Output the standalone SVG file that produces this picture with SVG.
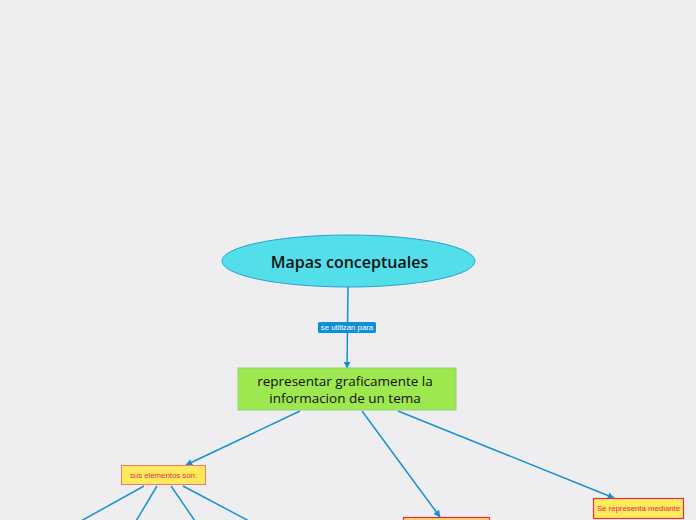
<svg xmlns="http://www.w3.org/2000/svg" width="696" height="520" viewBox="0 0 696 520">
<style>
.bg{fill:#eeeef1}
.con{stroke:#1591d3;stroke-width:1.5;fill:none}
.main{font-family:"Open Sans","Noto Sans",sans-serif;fill:#111;text-anchor:middle}
.small{font-family:"Liberation Sans",Arial,sans-serif;font-size:7.8px;text-anchor:middle}
.yel{fill:#ffe95c;stroke:#f07a6a;stroke-width:1}
.red{fill:#ffe95c;stroke:#e0304c;stroke-width:1.2}
</style>
<defs>
<marker id="ah" viewBox="0 0 10 10" refX="9" refY="5" markerWidth="7" markerHeight="7" orient="auto" markerUnits="userSpaceOnUse">
<path d="M0,0 L10,5 L0,10 z" fill="#1591d3"/>
</marker>
</defs>
<rect class="bg" x="0" y="0" width="696" height="520"/>
<g id="connectors">
<line class="con" x1="348" y1="287" x2="347" y2="368" marker-end="url(#ah)"/>
<line class="con" x1="300" y1="411" x2="186" y2="465" marker-end="url(#ah)"/>
<line class="con" x1="362" y1="411" x2="440" y2="517" marker-end="url(#ah)"/>
<line class="con" x1="398" y1="411" x2="614" y2="498" marker-end="url(#ah)"/>
<line class="con" x1="144" y1="486" x2="81" y2="521"/>
<line class="con" x1="157" y1="486" x2="136" y2="521"/>
<line class="con" x1="171" y1="486" x2="195" y2="521"/>
<line class="con" x1="183" y1="486" x2="249" y2="521"/>
<g id="label-utilizan">
<rect x="318" y="322" width="58" height="11" rx="1.5" fill="#0f8fd4"/>
<text x="347" y="330.3" class="small" fill="#fff">se utilizan para</text>
</g>
</g>
<g id="n-mapas">
<ellipse cx="348.5" cy="261" rx="126.5" ry="26" fill="#52dfea" stroke="#2a9fd6" stroke-width="1"/>
<text x="349.5" y="267.5" class="main" font-size="16" font-weight="600">Mapas conceptuales</text>
</g>
<g id="n-representar">
<rect x="238" y="368" width="218" height="42" fill="#9ee84f" stroke="#8fd27a" stroke-width="1"/>
<text x="345" y="386" class="main" font-size="13.5">representar graficamente la</text>
<text x="345" y="403" class="main" font-size="13.5">informacion de un tema</text>
</g>
<g id="n-elementos">
<rect x="121.5" y="465.5" width="84" height="19" class="yel"/>
<text x="163.5" y="477.8" class="small" fill="#e0304c">sus elementos son:</text>
</g>
<g id="n-middle">
<rect x="403.5" y="517.5" width="86" height="12" fill="#ffd36a" stroke="#e0304c" stroke-width="1.2"/>
</g>
<g id="n-representa">
<rect x="593.5" y="498.5" width="90" height="20" class="red"/>
<text x="638.5" y="511" class="small" fill="#e0304c">Se representa mediante</text>
</g>
</svg>
